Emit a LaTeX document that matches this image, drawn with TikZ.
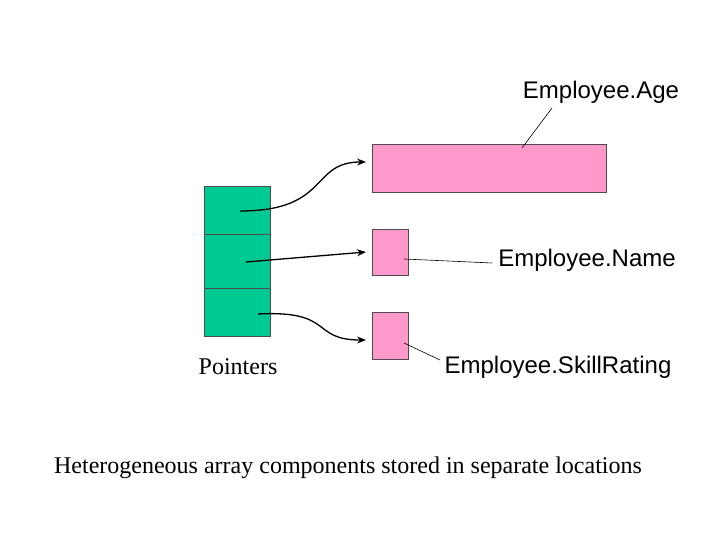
\documentclass[tikz,border=0pt]{standalone}
\usepackage{fontspec}
\setmainfont{Liberation Serif}
\newfontfamily\arial{Liberation Sans}
\usetikzlibrary{arrows.meta}
\definecolor{grn}{HTML}{00C994}
\definecolor{pnk}{HTML}{FF99CC}
\begin{document}
\begin{tikzpicture}[x=1pt,y=-1pt,
  cell/.style={draw=black!70,fill=grn,line width=0.6pt},
  pbox/.style={draw=black!70,fill=pnk,line width=0.6pt},
  ptr/.style={line width=1.3pt,-{Stealth[length=9pt,width=7pt]}},
  lead/.style={line width=0.6pt},
  sl/.style={font=\arial\fontsize{24}{28}\selectfont},
  tx/.style={font=\fontsize{24}{28}\selectfont}]
\useasboundingbox (0,0) rectangle (720,540);
\draw[cell] (204,186) rectangle (270,234);
\draw[cell] (204,234) rectangle (270,288);
\draw[cell] (204,288) rectangle (270,336);
\node[pbox,minimum width=234pt,minimum height=48pt,inner sep=0,anchor=north west] (age) at (372,144) {};
\node[pbox,minimum width=36pt,minimum height=46pt,inner sep=0,anchor=north west] (name) at (372,229) {};
\node[pbox,minimum width=36pt,minimum height=47pt,inner sep=0,anchor=north west] (skill) at (372,312) {};
\coordinate (p1) at (240,211);
\coordinate (p2) at (246,262);
\coordinate (p3) at (258,314);
\draw[ptr] (p1) .. controls (330,211) and (310,162) .. (366,162);
\draw[ptr] (p2) -- (366,252);
\draw[ptr] (p3) .. controls (335,310) and (310,340) .. (366,340);
\node[sl] (la) at (601,92) {Employee.Age};
\node[sl] (ln) at (587,260) {Employee.Name};
\node[sl] (ls) at (558,367) {Employee.SkillRating};
\node[tx] (lp) at (238,367) {Pointers};
\node[tx] (cap) at (348,468) {Heterogeneous array components stored in separate locations};
\coordinate (a1) at (552,108); \coordinate (a2) at (522,148);
\draw[lead] (a1) -- (a2);
\coordinate (n1) at (404,259); \coordinate (n2) at (492,263);
\draw[lead] (n1) -- (n2);
\coordinate (s1) at (404,343); \coordinate (s2) at (440,360);
\draw[lead] (s1) -- (s2);
\end{tikzpicture}
\end{document}
